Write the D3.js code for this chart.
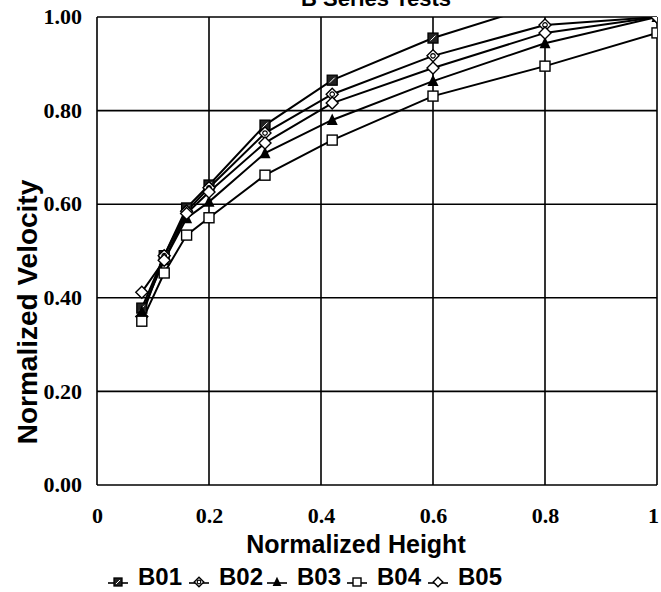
<!DOCTYPE html>
<html><head><meta charset="utf-8">
<script src="https://cdn.jsdelivr.net/npm/d3@7"></script>
<style>body{margin:0;background:#fff}svg{display:block}</style>
</head><body>
<script>
const heights = [0.08, 0.12, 0.16, 0.2, 0.3, 0.42, 0.6, 0.8, 1.0];
const B01 = [0.378, 0.49, 0.592, 0.641, 0.769, 0.865, 0.955, 1.03, 1.10];
const B02 = [0.36, 0.49, 0.585, 0.635, 0.752, 0.835, 0.917, 0.983, 1.0];
const B03 = [0.37, 0.48, 0.57, 0.605, 0.709, 0.78, 0.863, 0.944, 1.0];
const B04 = [0.35, 0.453, 0.534, 0.571, 0.662, 0.737, 0.831, 0.895, 0.966];
const B05 = [0.412, 0.48, 0.58, 0.626, 0.731, 0.816, 0.891, 0.966, 1.0];
const seriesNames = ["B01", "B02", "B03", "B04", "B05"];
const xTicks = [0, 0.2, 0.4, 0.6, 0.8, 1];
const xTickLabels = ["0", "0.2", "0.4", "0.6", "0.8", "1"];
const yTicks = [0, 0.2, 0.4, 0.6, 0.8, 1.0];
const yTickLabels = ["0.00", "0.20", "0.40", "0.60", "0.80", "1.00"];

const series = [B01, B02, B03, B04, B05].map((v, i) => ({name: seriesNames[i], values: v}));

const W = 661, H = 592;
const L = 97, R = 657, T = 17, B = 485;
const svg = d3.select("body").append("svg").attr("width", W).attr("height", H);
const x = d3.scaleLinear().domain([0, 1]).range([L, R]);
const y = d3.scaleLinear().domain([0, 1]).range([B, T]);

svg.append("defs").append("clipPath").attr("id", "clip")
  .append("rect").attr("x", L).attr("y", T).attr("width", R - L).attr("height", B - T);

// grid
const g = svg.append("g");
g.selectAll(".vg").data(xTicks).join("line")
  .attr("x1", d => x(d)).attr("x2", d => x(d)).attr("y1", T).attr("y2", B)
  .attr("stroke", "#000").attr("stroke-width", 1.6);
g.selectAll(".hg").data(yTicks).join("line")
  .attr("x1", L).attr("x2", R).attr("y1", d => y(d)).attr("y2", d => y(d))
  .attr("stroke", "#000").attr("stroke-width", 1.6);

// axes labels
const serif = "'Liberation Serif','Times New Roman',serif";
const sans = "'Liberation Sans',Arial,sans-serif";
const yAxis = d3.axisLeft(y).tickValues(yTicks).tickFormat((d, i) => yTickLabels[i]).tickSize(0).tickPadding(15);
const ya = svg.append("g").attr("transform", `translate(${L},0)`).call(yAxis);
ya.select(".domain").remove();
ya.selectAll("text").attr("font-family", serif).attr("font-weight", "bold").attr("font-size", 22).attr("fill", "#000").attr("dy", "0.3em");

const xAxis = d3.axisBottom(x).tickValues(xTicks).tickFormat((d, i) => xTickLabels[i]).tickSize(0).tickPadding(22);
const xa = svg.append("g").attr("transform", `translate(0,${B})`).call(xAxis);
xa.select(".domain").remove();
xa.selectAll("text").attr("font-family", serif).attr("font-weight", "bold").attr("font-size", 22).attr("fill", "#000")
  .attr("dx", (d, i) => i === xTicks.length - 1 ? -4 : 0);

svg.append("text").attr("x", 356).attr("y", 553).attr("text-anchor", "middle")
  .attr("font-family", sans).attr("font-weight", "bold").attr("font-size", 25).text("Normalized Height");
svg.append("text").attr("transform", `translate(37,${(T + B) / 2 + 61}) rotate(-90)`).attr("text-anchor", "middle")
  .attr("font-family", sans).attr("font-weight", "bold").attr("font-size", 28).text("Normalized Velocity");
svg.append("text").attr("x", 376).attr("y", 6).attr("text-anchor", "middle")
  .attr("font-family", sans).attr("font-weight", "bold").attr("font-size", 22).text("B Series Tests");

// markers
function drawMarker(sel, name, s) {
  if (name === "B01") {
    sel.append("rect").attr("x", -s).attr("y", -s).attr("width", 2 * s).attr("height", 2 * s)
      .attr("fill", "#222").attr("stroke", "#000").attr("stroke-width", 1.3);
    sel.append("line").attr("x1", -s * 0.5).attr("y1", s * 0.5).attr("x2", s * 0.5).attr("y2", -s * 0.5)
      .attr("stroke", "#fff").attr("stroke-width", 1);
  } else if (name === "B02") {
    sel.append("path").attr("d", `M0,${-s * 1.2}L${s * 1.2},0L0,${s * 1.2}L${-s * 1.2},0Z`)
      .attr("fill", "#fff").attr("stroke", "#000").attr("stroke-width", 1.4);
    sel.append("circle").attr("r", s * 0.45).attr("fill", "none").attr("stroke", "#000").attr("stroke-width", 1.2);
  } else if (name === "B03") {
    sel.append("path").attr("d", `M0,${-s * 1.3}L${s * 1.1},${s}L${-s * 1.1},${s}Z`).attr("fill", "#000");
  } else if (name === "B04") {
    sel.append("rect").attr("x", -s).attr("y", -s).attr("width", 2 * s).attr("height", 2 * s)
      .attr("fill", "#fff").attr("stroke", "#000").attr("stroke-width", 1.4);
  } else {
    sel.append("path").attr("d", `M0,${-s * 1.2}L${s * 1.2},0L0,${s * 1.2}L${-s * 1.2},0Z`)
      .attr("fill", "#fff").attr("stroke", "#000").attr("stroke-width", 1.4);
  }
}

const plot = svg.append("g").attr("clip-path", "url(#clip)");
const line = d3.line().x((d, i) => x(heights[i])).y(d => y(d));
series.forEach(s => {
  plot.append("path").datum(s.values).attr("d", line).attr("fill", "none")
    .attr("stroke", "#000").attr("stroke-width", 2);
});
series.forEach(s => {
  s.values.forEach((v, i) => {
    if (v > 1.001) return;
    const m = plot.append("g").attr("transform", `translate(${x(heights[i])},${y(v)})`);
    drawMarker(m, s.name, 5);
  });
});

// legend
const legX = [118, 199, 277, 357, 438];
const leg = svg.append("g");
series.forEach((s, i) => {
  const gx = legX[i], gy = 583;
  leg.append("line").attr("x1", gx - 10).attr("x2", gx + 10).attr("y1", gy).attr("y2", gy)
    .attr("stroke", "#000").attr("stroke-width", 1.6);
  const m = leg.append("g").attr("transform", `translate(${gx},${gy - 1})`);
  drawMarker(m, s.name, 4);
  leg.append("text").attr("x", gx + 20).attr("y", gy + 2).attr("font-family", sans)
    .attr("font-weight", "bold").attr("font-size", 24).text(s.name);
});
</script>
</body></html>
